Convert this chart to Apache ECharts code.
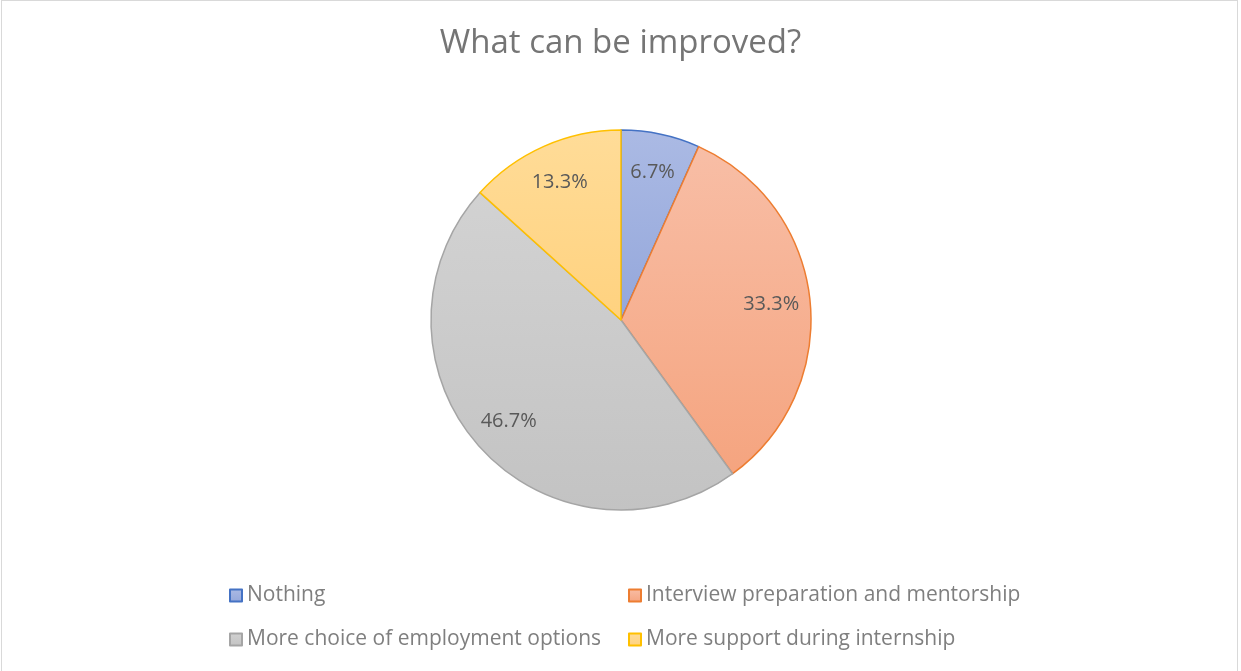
<!DOCTYPE html>
<html>
<head>
<meta charset="utf-8">
<script src="https://cdn.jsdelivr.net/npm/echarts@6/dist/echarts.min.js"></script>
<style>
html,body{margin:0;padding:0;background:#fff;}
#wrap{position:relative;width:1241px;height:671px;}
#chart{width:1241px;height:671px;}
#frame{position:absolute;left:1px;top:0;width:1237px;height:680px;border:1px solid #d9d9d9;pointer-events:none;box-sizing:border-box;}
</style>
</head>
<body>
<div id="wrap"><div id="chart"></div><div id="frame"></div></div>
<script>
const titleText = 'What can be improved?';
const categories = ['Nothing', 'Interview preparation and mentorship', 'More choice of employment options', 'More support during internship'];
const values = [6.7, 33.3, 46.7, 13.3];
const labels = ['6.7%', '33.3%', '46.7%', '13.3%'];
const fillTop = ['#abbae4', '#f8bea6', '#d2d2d2', '#ffdc98'];
const fillBottom = ['#94a7db', '#f5a47f', '#c3c3c3', '#ffd27f'];
const borders = ['#4472c4', '#ed7d31', '#a5a5a5', '#ffc000'];

const FONT = '"Open Sans", Lato, sans-serif';

function grad(i) {
  return new echarts.graphic.LinearGradient(0, 0, 0, 1, [
    {offset: 0, color: fillTop[i]},
    {offset: 1, color: fillBottom[i]}
  ]);
}

const visualData = categories.map((c, i) => ({
  name: c,
  value: values[i],
  itemStyle: {color: grad(i), borderColor: borders[i], borderWidth: 1.5}
}));
const labelData = categories.map((c, i) => ({
  name: c,
  value: values[i],
  label: {formatter: labels[i]}
}));

const legendCommon = {
  orient: 'vertical',
  top: 585,
  padding: 0,
  itemGap: 23,
  itemWidth: 12,
  itemHeight: 12,
  icon: 'rect',
  textStyle: {fontFamily: FONT, fontSize: 21, color: '#7f7f7f'},
  selectedMode: false
};

const chart = echarts.init(document.getElementById('chart'), null, {renderer: 'canvas'});
chart.setOption({
  backgroundColor: '#ffffff',
  animation: false,
  title: {
    text: titleText,
    left: 'center',
    top: 22,
    textStyle: {fontFamily: FONT, fontSize: 33, fontWeight: 'normal', color: '#757575'}
  },
  legend: [
    Object.assign({}, legendCommon, {data: [categories[0], categories[2]], left: 229}),
    Object.assign({}, legendCommon, {data: [categories[1], categories[3]], left: 628})
  ],
  series: [
    {
      type: 'pie',
      center: [621, 320],
      radius: [0, 190],
      startAngle: 90,
      clockwise: true,
      silent: true,
      label: {show: false},
      labelLine: {show: false},
      data: visualData
    },
    {
      type: 'pie',
      center: [621, 320],
      radius: [106, 190],
      startAngle: 90,
      clockwise: true,
      silent: true,
      itemStyle: {color: 'rgba(0,0,0,0)', borderWidth: 0},
      label: {show: true, position: 'inside', fontFamily: FONT, fontSize: 20, color: '#595959'},
      labelLine: {show: false},
      data: labelData
    }
  ]
});
</script>
</body>
</html>
